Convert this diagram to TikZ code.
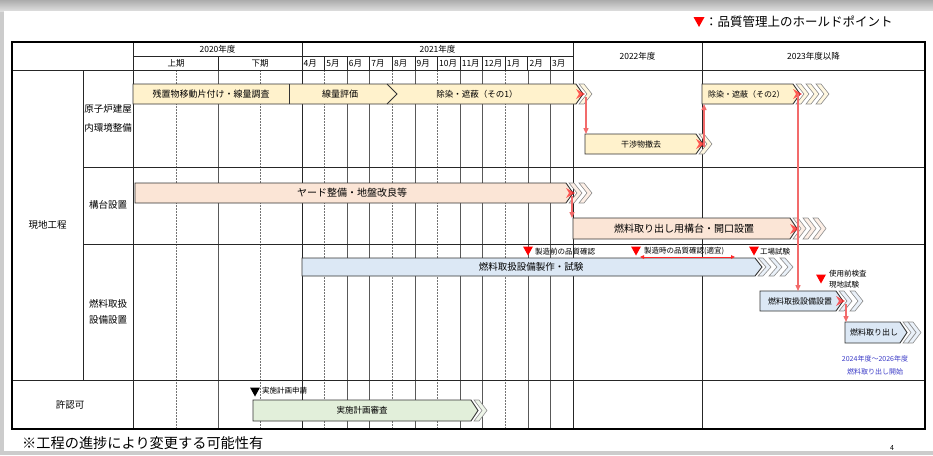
\documentclass[tikz,border=0pt]{standalone}
\usepackage{fontspec}
\setmainfont{Noto Sans CJK JP}
\usetikzlibrary{arrows.meta}
\definecolor{barY}{HTML}{FFF2CC}
\definecolor{barP}{HTML}{FBE5D6}
\definecolor{barB}{HTML}{DCE8F5}
\definecolor{barG}{HTML}{E2EFDA}
\definecolor{hold}{HTML}{FF0000}
\definecolor{redln}{HTML}{F26B6B}
\definecolor{note}{HTML}{3C3CC8}
\tikzset{
  hdr/.style={font=\fontsize{8.5}{9}\selectfont, inner sep=0pt},
  lbl/.style={font=\fontsize{9.5}{19}\selectfont, align=center, inner sep=0pt},
  bartext/.style={font=\fontsize{9}{10}\selectfont, inner sep=0pt},
  smalltext/.style={font=\fontsize{7.5}{9}\selectfont, inner sep=0pt},
  redarrow/.style={draw=redln, line width=1.3pt, -{Triangle[length=6pt,width=5pt]}},
  gridln/.style={draw=black!65, line width=0.6pt},
  gridd/.style={draw=black!55, line width=0.6pt, dash pattern=on 2pt off 1pt},
  mainln/.style={draw=black!85, line width=0.9pt},
  barline/.style={draw=black!80, line width=0.9pt},
}
% bar with pointed tip: x0, tip, y0, y1, fill
\newcommand{\gbar}[5]{\filldraw[barline, fill=#5] (#1,#3) -- ({#2-7},#3) -- (#2,{(#3+#4)/2}) -- ({#2-7},#4) -- (#1,#4) -- cycle;}
% chevron: x, y0, y1, fill
\newcommand{\gchev}[4]{\filldraw[draw=black!45, line width=0.6pt, fill=#4] (#1,#2) -- ({#1+5},#2) -- ({#1+13},{(#2+#3)/2}) -- ({#1+5},#3) -- (#1,#3) -- ({#1+8},{(#2+#3)/2}) -- cycle;}
% down triangle marker: x, y, colour, half-size
\newcommand{\gtri}[4]{\fill[#3] ({#1-#4},{#2-0.9*#4}) -- ({#1+#4},{#2-0.9*#4}) -- (#1,{#2+0.9*#4}) -- cycle;}
% red tip marker
\newcommand{\gtip}[2]{\fill[hold!85, opacity=0.75] ({#1-7},{#2-5}) -- ({#1+2},#2) -- ({#1-7},{#2+5}) -- ({#1-4},#2) -- cycle;}
\begin{document}
\begin{tikzpicture}[x=1pt,y=-1pt]
\useasboundingbox (0,0) rectangle (933,455);
% page background / shadow
\fill[gray!40] (0,0) rectangle (933,455);
\shade[top color=gray!65, bottom color=gray!25] (0,0) rectangle (933,11);
\fill[white] (4,11) rectangle (933,451);

% ---------- grid ----------
\foreach \x in {218} \draw[gridln] (\x,70) -- (\x,429);
\foreach \x in {176,260} \draw[gridd] (\x,70) -- (\x,429);
\foreach \i in {2,3,5,7,8,10,11} \draw[gridln] ({302+\i*22.583},70) -- ({302+\i*22.583},429);
\foreach \i in {1,4,6,9} \draw[gridd] ({302+\i*22.583},70) -- ({302+\i*22.583},429);
\foreach \i in {1,...,11} \draw[mainln, line width=0.7pt] ({302+\i*22.583},56) -- ({302+\i*22.583},70);
\draw[mainln] (218,56) -- (218,70);
\draw[mainln] (133,56) -- (573,56);
\draw[mainln] (12,70) -- (925,70);
\draw[mainln] (83,167) -- (925,167);
\draw[mainln] (83,244) -- (925,244);
\draw[mainln] (12,380) -- (925,380);
\draw[mainln] (83,70) -- (83,380);
\foreach \x in {133,302,573,702} \draw[mainln] (\x,42) -- (\x,429);
\draw[black, line width=1.4pt] (12,42) rectangle (925,429);

% ---------- header ----------
\node[hdr] (y2020) at (217.5,49) {2020年度};
\node[hdr] (y2021) at (437.5,49) {2021年度};
\node[hdr] (y2022) at (637.5,56) {2022年度};
\node[hdr] (y2023) at (813.5,56) {2023年度以降};
\node[hdr] (kamiki) at (176,63) {上期};
\node[hdr] (shimoki) at (260,63) {下期};
\foreach \m [count=\i from 0] in {4月,5月,6月,7月,8月,9月,10月,11月,12月,1月,2月,3月}
  \node[hdr, anchor=west] (m\i) at ({302+\i*22.583+1.5},63) {\m};

% ---------- left labels ----------
\node[lbl] (genchi) at (47.5,225) {現地工程};
\node[lbl] (genshiro) at (108,118) {原子炉建屋\\内環境整備};
\node[lbl] (kodai) at (108,205) {構台設置};
\node[lbl, font=\fontsize{9.5}{16}\selectfont] (nenryo) at (108,312) {燃料取扱\\設備設置};
\node[lbl] (kyoninka) at (70,405) {許認可};

% ---------- row 1 ----------
\gchev{579}{84}{104}{barY!60!white}
\gbar{133}{583}{84}{104}{barY}
\draw[barline] (289,84) -- (289,104);
\draw[barline] (387,84) -- (397,94) -- (387,104);
\node[bartext] (zanchi) at (211,94) {残置物移動片付け・線量調査};
\node[bartext] (senryo) at (340,94) {線量評価};
\node[bartext, font=\fontsize{8.5}{9}\selectfont] (josen1) at (477,94) {除染・遮蔽（その1）};
\gtip{583}{94}

\gchev{699}{134}{154}{barY!60!white}
\gbar{585}{703}{134}{154}{barY}
\node[bartext, font=\fontsize{8}{9}\selectfont] (kansho) at (641,144) {干渉物撤去};
\gtip{703}{144}

\gchev{816}{84}{104}{barY!60!white}
\gchev{806}{84}{104}{barY!60!white}
\gchev{796}{84}{104}{barY!60!white}
\gbar{702}{800}{84}{104}{barY}
\node[bartext, font=\fontsize{8}{9}\selectfont, anchor=west] (josen2) at (708,94) {除染・遮蔽（その2）};
\gtip{800}{94}

% ---------- row 2 ----------
\gchev{579}{183}{203}{barP!60!white}
\gchev{569}{183}{203}{barP!60!white}
\gbar{135}{573}{183}{203}{barP}
\node[bartext, font=\fontsize{10}{11}\selectfont] (yard) at (352,193) {ヤード整備・地盤改良等};
\gtip{573}{193}

\gchev{813}{218}{239}{barP!60!white}
\gchev{803}{218}{239}{barP!60!white}
\gchev{793}{218}{239}{barP!60!white}
\gbar{573}{797}{218}{239}{barP}
\node[bartext, font=\fontsize{10}{11}\selectfont] (kodaibar) at (684,229) {燃料取り出し用構台・開口設置};
\gtip{797}{229}

% ---------- row 3 ----------
\gchev{780}{258}{276}{barB!60!white}
\gchev{769}{258}{276}{barB!60!white}
\gchev{758}{258}{276}{barB!60!white}
\gbar{302}{762}{258}{276}{barB}
\node[bartext, font=\fontsize{9.5}{10}\selectfont] (seisaku) at (531,267) {燃料取扱設備製作・試験};

\gchev{850}{291}{311}{barB!60!white}
\gchev{839}{291}{311}{barB!60!white}
\gbar{760}{843}{291}{311}{barB}
\node[bartext, font=\fontsize{8}{9}\selectfont] (setchi) at (800,301) {燃料取扱設備設置};
\gtip{843}{301}

\gchev{908}{322}{343}{barB!60!white}
\gchev{903}{322}{343}{barB!60!white}
\gbar{845}{907}{322}{343}{barB}
\node[bartext, font=\fontsize{8}{9}\selectfont] (toridashi) at (874,332) {燃料取り出し};

\gtri{528}{251}{hold}{5}
\node[smalltext, anchor=west] (q1) at (535,252) {製造前の品質確認};
\gtri{636}{251}{hold}{5}
\node[smalltext, anchor=west] (q2) at (644,251) {製造時の品質確認(適宜)};
\coordinate (da) at (640,257);
\coordinate (db) at (735,257);
\draw[hold!85, line width=0.8pt, {Triangle[length=4pt,width=3.5pt]}-{Triangle[length=4pt,width=3.5pt]}] (da) -- (db);
\gtri{754}{251}{hold}{5}
\node[smalltext, anchor=west] (q3) at (760,252) {工場試験};
\gtri{821}{279}{hold}{5}
\node[smalltext, anchor=west, align=left, font=\fontsize{7.5}{11}\selectfont] (q4) at (829,279.5) {使用前検査\\現地試験};

\node[font=\fontsize{7}{13}\selectfont, text=note, align=center, inner sep=0pt] (kaishi) at (875,365.5) {2024年度～2026年度\\燃料取り出し開始};

% ---------- row 4 ----------
\gtri{255}{392}{black}{5}
\node[smalltext, anchor=west] (shinsei) at (262,391) {実施計画申請};
\gchev{474}{400}{421}{barG!60!white}
\gbar{253}{478}{400}{421}{barG}
\node[bartext, font=\fontsize{8.5}{9}\selectfont] (shinsa) at (362,410.5) {実施計画審査};

% ---------- red connectors ----------
\coordinate (a1s) at (586,97);  \coordinate (a1e) at (586,134);
\coordinate (a2s) at (704,147); \coordinate (a2e) at (704,104);
\coordinate (a3s) at (798,94);  \coordinate (a3e) at (798,291);
\coordinate (a4s) at (572,196); \coordinate (a4e) at (572,218);
\coordinate (a5s) at (846,304); \coordinate (a5e) at (846,322);
\draw[redarrow] (a1s) -- (a1e);
\draw[redarrow] (a2s) -- (a2e);
\draw[redarrow] (a3s) -- (a3e);
\draw[redarrow] (a4s) -- (a4e);
\draw[redarrow] (a5s) -- (a5e);

% ---------- legend & notes ----------
\gtri{699}{22}{hold}{5.5}
\node[font=\fontsize{12.5}{13}\selectfont, anchor=west, inner sep=0pt] (legend) at (705,22) {：品質管理上のホールドポイント};
\node[font=\fontsize{14.2}{15}\selectfont, anchor=west, inner sep=0pt] (footnote) at (22,443) {※工程の進捗により変更する可能性有};
\node[font=\fontsize{7}{8}\selectfont, inner sep=0pt] (pagenum) at (892,448) {4};
\end{tikzpicture}
\end{document}
